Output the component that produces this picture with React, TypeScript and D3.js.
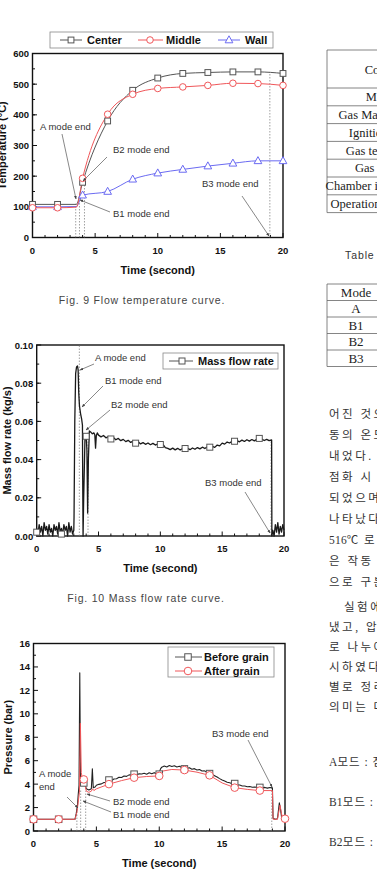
import React from "react";
import * as d3 from "d3";

// ---- Fig. 9: flow temperature (°C) ----
const tempTime = [0, 2, 3.5, 4, 6, 8, 10, 12, 14, 16, 18, 20];
const tempCenter = [108, 108, 108, 180, 380, 480, 520, 535, 538, 540, 540, 535];
const tempMiddle = [97, 97, 99, 193, 402, 467, 486, 491, 496, 503, 502, 496];
const tempWall = [100, 100, 101, 138, 150, 190, 210, 222, 233, 242, 250, 250];
const tempMarkTimes = [0, 2, 4, 6, 8, 10, 12, 14, 16, 18, 20];

// ---- Fig. 10: mass flow rate (kg/s) ----
const flowIdle = [0.004, 0.001, 0.006, 0.002, 0.005, 0.0, 0.007, 0.003, 0.005, 0.001, 0.006, 0.002, 0.004, 0.0, 0.006, 0.003, 0.005, 0.001, 0.007, 0.002, 0.004, 0.001, 0.006, 0.003, 0.005, 0.0, 0.007, 0.002, 0.005, 0.001, 0.003];
const flowStart: [number, number][] = [
  [3.02, 0.01], [3.08, 0.06], [3.15, 0.085], [3.22, 0.0885], [3.3, 0.089], [3.35, 0.087],
  [3.4, 0.075], [3.46, 0.068], [3.55, 0.064], [3.64, 0.061], [3.7, 0.058], [3.72, 0.03],
  [3.75, 0.0], [3.8, 0.02], [3.9, 0.05], [4.0, 0.053], [4.06, 0.045], [4.12, 0.012],
  [4.18, 0.04], [4.26, 0.055], [4.36, 0.0545], [4.5, 0.0535], [4.62, 0.054], [4.7, 0.053],
  [4.76, 0.046], [4.82, 0.0525], [4.9, 0.054]
];
const flowSteady = [0.0528, 0.0519, 0.0526, 0.0514, 0.0521, 0.051, 0.0516, 0.0504, 0.0511, 0.0499, 0.0506, 0.0494, 0.0501, 0.049, 0.0497, 0.0486, 0.0493, 0.0482, 0.0489, 0.048, 0.0487, 0.0478, 0.0485, 0.0476, 0.0483, 0.0475, 0.0481, 0.0463, 0.0459, 0.0452, 0.046, 0.0451, 0.0459, 0.045, 0.0458, 0.0451, 0.0459, 0.0452, 0.0461, 0.0454, 0.0463, 0.0456, 0.0465, 0.0458, 0.0467, 0.046, 0.0469, 0.0464, 0.0476, 0.0472, 0.0486, 0.0481, 0.0492, 0.0487, 0.0496, 0.049, 0.0499, 0.0493, 0.0502, 0.0495, 0.0504, 0.0497, 0.0505, 0.0498, 0.0506, 0.0499, 0.0507, 0.05, 0.0506, 0.0499, 0.0503];
const flowEnd: [number, number][] = [
  [19.02, 0.0], [19.1, 0.003], [19.2, 0.0], [19.3, 0.006], [19.4, 0.002], [19.5, 0.007],
  [19.6, 0.001], [19.7, 0.005], [19.8, 0.002], [19.9, 0.006], [20.0, 0.003]
];
const flowMarks: [number, number][] = [
  [0, 0.002], [2, 0.001], [4, 0.0522], [6, 0.0508], [8, 0.0486], [10, 0.0479],
  [12, 0.0458], [14, 0.0465], [16, 0.0496], [18, 0.0511]
];

// ---- Fig. 11: chamber pressure (bar) ----
const pressBefore: [number, number][] = [
  [0, 1.0], [3.3, 1.0], [3.4, 1.5], [3.5, 2.2], [3.55, 3.0], [3.62, 3.9], [3.68, 13.5],
  [3.74, 4.0], [3.85, 4.1], [4.0, 4.15], [4.1, 4.0], [4.2, 3.6], [4.4, 3.5], [4.6, 3.6],
  [4.68, 5.3], [4.75, 3.7], [4.9, 3.75], [5.0, 3.9], [5.2, 3.98], [5.4, 4.02], [5.6, 4.14],
  [5.8, 4.16], [6.0, 4.34], [6.2, 4.31], [6.4, 4.44], [6.6, 4.46], [6.8, 4.59], [7.0, 4.56],
  [7.2, 4.69], [7.4, 4.66], [7.6, 4.79], [7.8, 4.76], [8.0, 4.89], [8.2, 4.78], [8.4, 4.88],
  [8.6, 4.86], [8.8, 4.92], [9.0, 4.85], [9.2, 4.97], [9.4, 4.88], [9.6, 4.98], [9.8, 4.88],
  [10.0, 4.97], [10.1, 5.3], [10.2, 5.45], [10.4, 5.55], [10.6, 5.47], [10.8, 5.58],
  [11.0, 5.5], [11.2, 5.57], [11.4, 5.46], [11.6, 5.53], [11.8, 5.42], [12.0, 5.47],
  [12.2, 5.36], [12.4, 5.4], [12.6, 5.27], [12.8, 5.32], [13.0, 5.21], [13.2, 5.24],
  [13.4, 5.12], [13.6, 5.13], [13.8, 5.02], [14.0, 4.95], [14.2, 4.84], [14.4, 4.72],
  [14.6, 4.6], [14.8, 4.47], [15.0, 4.35], [15.2, 4.26], [15.4, 4.16], [15.6, 4.12],
  [15.8, 4.04], [16.0, 4.02], [16.2, 3.94], [16.4, 3.92], [16.6, 3.84], [16.8, 3.84],
  [17.0, 3.77], [17.2, 3.8], [17.4, 3.73], [17.6, 3.76], [17.8, 3.7], [18.0, 3.74],
  [18.2, 3.68], [18.4, 3.72], [18.6, 3.66], [18.8, 3.71], [19.0, 3.68], [19.05, 1.1],
  [19.2, 1.0], [19.4, 1.05], [19.55, 2.4], [19.65, 1.8], [19.75, 1.0], [20.0, 1.0]
];
const pressAfter: [number, number][] = [
  [0, 1.0], [3.3, 1.0], [3.45, 1.6], [3.55, 2.4], [3.65, 3.3], [3.73, 9.2], [3.8, 5.0],
  [3.9, 4.3], [4.0, 4.4], [4.2, 3.4], [4.4, 3.3], [4.6, 3.4], [4.7, 3.6], [4.8, 3.45],
  [5.0, 3.6], [6.0, 4.0], [7.0, 4.3], [8.0, 4.55], [9.0, 4.65], [10.0, 4.7], [10.2, 5.1],
  [11.0, 5.25], [12.0, 5.2], [13.0, 5.02], [14.0, 4.75], [15.0, 4.1], [16.0, 3.7],
  [17.0, 3.55], [18.0, 3.45], [19.0, 3.45], [19.05, 1.0], [19.4, 1.0], [19.6, 2.2],
  [19.8, 1.05], [20.0, 1.05]
];
const pressBeforeMarks: [number, number][] = [
  [0, 1.0], [2, 1.0], [4, 4.1], [6, 4.35], [8, 4.85], [10, 4.85], [12, 5.3], [14, 4.9], [16, 4.05], [18, 3.72]
];
const pressAfterMarks: [number, number][] = [
  [0, 1.0], [2, 1.0], [4, 4.4], [6, 4.0], [8, 4.55], [10, 4.7], [12, 5.2], [14, 4.75], [16, 3.7], [18, 3.45], [20, 1.05]
];

const modeEnds = [3.45, 3.75, 4.15, 18.95];

// ---- right-hand column of the page ----
const table1Header = "Contents";
const table1Rows = ["Material", "Gas Mass flow rate", "Ignition energy", "Gas temperature", "Gas pressure", "Chamber initial pressure", "Operation temperature"];
const table2Caption = "Table 2 Operation mode";
const table2Header = "Mode";
const table2Rows = ["A", "B1", "B2", "B3"];
const bodyLines = ["어진 것으", "동의 온도", "내었다. 그", "점화 시 온", "되었으며", "나타났다.", "516℃ 로", "은 작동 시", "으로 구분"];
const bodyLines2 = ["실험에서", "냈고, 압력", "로 나누어", "시하였다.", "별로 정리", "의미는 다"];
const modeLines = ["A모드 : 점", "B1모드 : 초", "B2모드 : 연"];

const SANS = "'Liberation Sans', Arial, sans-serif";
const SERIF = "'Liberation Serif', 'Times New Roman', serif";
const BODY = "'Liberation Serif', 'Noto Sans CJK KR', serif";

type Box = { l: number; r: number; t: number; b: number };

function Axes({ box, x, y, yMajor, yMinor, yFmt, yTitle, yTitleX }: {
  box: Box; x: d3.ScaleLinear<number, number>; y: d3.ScaleLinear<number, number>;
  yMajor: number[]; yMinor: number[]; yFmt: (v: number) => string; yTitle: string; yTitleX: number;
}) {
  const xMajor = [0, 5, 10, 15, 20];
  const xMinor = d3.range(0, 21, 1);
  const midY = (box.t + box.b) / 2;
  return (
    <g>
      <rect x={box.l} y={box.t} width={box.r - box.l} height={box.b - box.t} fill="none" stroke="#111" strokeWidth={1.4} />
      {xMinor.map((v) => (
        <line key={"xm" + v} x1={x(v)} x2={x(v)} y1={box.b} y2={box.b - (v % 5 === 0 ? 4.5 : 2.5)} stroke="#111" strokeWidth={1} />
      ))}
      {yMinor.map((v, i) => (
        <line key={"ym" + i} x1={box.l} x2={box.l + 2.5} y1={y(v)} y2={y(v)} stroke="#111" strokeWidth={1} />
      ))}
      {yMajor.map((v, i) => (
        <g key={"yM" + i}>
          <line x1={box.l} x2={box.l + 4.5} y1={y(v)} y2={y(v)} stroke="#111" strokeWidth={1} />
          <text x={box.l - 3.5} y={y(v) + 3.5} textAnchor="end" fontSize={9.5} fontWeight="bold" fontFamily={SANS} fill="#111">{yFmt(v)}</text>
        </g>
      ))}
      {xMajor.map((v) => (
        <text key={"xl" + v} x={x(v)} y={box.b + 16} textAnchor="middle" fontSize={9.5} fontWeight="bold" fontFamily={SANS} fill="#111">{v}</text>
      ))}
      <text x={(box.l + box.r) / 2} y={box.b + 36} textAnchor="middle" fontSize={11} fontWeight="bold" fontFamily={SANS} fill="#111">Time (second)</text>
      <text transform={`translate(${yTitleX},${midY}) rotate(-90)`} textAnchor="middle" fontSize={11} fontWeight="bold" fontFamily={SANS} fill="#111">{yTitle}</text>
    </g>
  );
}

function Note({ tx, ty, lines, x1, y1, x2, y2 }: { tx: number; ty: number; lines: string[]; x1: number; y1: number; x2: number; y2: number }) {
  return (
    <g>
      {lines.map((s, i) => (
        <text key={i} x={tx} y={ty + i * 12.5} fontSize={9.5} fontFamily={SANS} fill="#333">{s}</text>
      ))}
      <line x1={x1} y1={y1} x2={x2} y2={y2} stroke="#555" strokeWidth={0.7} markerEnd="url(#arrow)" />
    </g>
  );
}

const Square = ({ cx, cy, s, stroke }: { cx: number; cy: number; s: number; stroke: string }) => (
  <rect x={cx - s / 2} y={cy - s / 2} width={s} height={s} fill="white" stroke={stroke} strokeWidth={1} />
);
const Tri = ({ cx, cy, s, stroke }: { cx: number; cy: number; s: number; stroke: string }) => (
  <path d={`M${cx},${cy - s * 0.6} L${cx + s * 0.55},${cy + s * 0.4} L${cx - s * 0.55},${cy + s * 0.4} Z`} fill="white" stroke={stroke} strokeWidth={1} />
);

const GRAY = "#555";
const RED = "#f0575a";
const BLUE = "#6b6bf2";

function LegendText({ x, y, children }: { x: number; y: number; children: string }) {
  return <text x={x} y={y} fontSize={11} fontWeight="bold" fontFamily={SANS} fill="#111">{children}</text>;
}

// Hangul gets wide tracking, Latin/digit runs stay tight
function BodyLine({ x, y, text, spacing }: { x: number; y: number; text: string; spacing: number }) {
  const runs = text.match(/[0-9A-Za-z℃]+|[^0-9A-Za-z℃]+/g) ?? [];
  return (
    <text x={x} y={y} fontSize={11.5} fontFamily={BODY} fill="#333">
      {runs.map((r, i) => (
        <tspan key={i} letterSpacing={/[0-9A-Za-z℃]/.test(r) ? 0.2 : spacing}>{r}</tspan>
      ))}
    </text>
  );
}

function TemperatureChart() {
  const box = { l: 32.5, r: 283, t: 53.5, b: 237.5 };
  const x = d3.scaleLinear().domain([0, 20]).range([box.l, box.r]);
  const y = d3.scaleLinear().domain([0, 600]).range([box.b, box.t]);
  const line = d3.line<number>().x((_, i) => x(tempTime[i])).y((d) => y(d)).curve(d3.curveMonotoneX);
  const marks = (vals: number[]) => tempTime.map((t, i) => ({ t, v: vals[i] })).filter((d) => tempMarkTimes.includes(d.t));
  const guideTops = [110, 112, 190, 540];
  return (
    <g>
      <Axes box={box} x={x} y={y} yMajor={d3.range(0, 601, 100)} yMinor={d3.range(50, 600, 50)} yFmt={(v) => String(v)} yTitle="Temperature (°C)" yTitleX={5.5} />
      {modeEnds.map((m, i) => (
        <line key={i} x1={x(m)} x2={x(m)} y1={y(0)} y2={y(guideTops[i])} stroke="#777" strokeWidth={0.7} strokeDasharray="1.5,1.5" />
      ))}
      <path d={line(tempWall) ?? ""} fill="none" stroke={BLUE} strokeWidth={1} />
      <path d={line(tempCenter) ?? ""} fill="none" stroke={GRAY} strokeWidth={1} />
      <path d={line(tempMiddle) ?? ""} fill="none" stroke={RED} strokeWidth={1} />
      {marks(tempWall).map((d) => <Tri key={d.t} cx={x(d.t)} cy={y(d.v)} s={7} stroke={BLUE} />)}
      {marks(tempCenter).map((d) => <Square key={d.t} cx={x(d.t)} cy={y(d.v)} s={5.8} stroke={GRAY} />)}
      {marks(tempMiddle).map((d) => <circle key={d.t} cx={x(d.t)} cy={y(d.v)} r={3.3} fill="white" stroke={RED} strokeWidth={1} />)}
      <Note tx={40} ty={130} lines={["A mode end"]} x1={62} y1={134} x2={76} y2={199} />
      <Note tx={113} ty={153} lines={["B2 mode end"]} x1={107} y1={157} x2={83} y2={181} />
      <Note tx={113} ty={217} lines={["B1 mode end"]} x1={110} y1={212} x2={80} y2={200} />
      <Note tx={202} ty={187} lines={["B3 mode end"]} x1={242} y1={196} x2={269} y2={236} />
      {/* legend */}
      <rect x={50} y={32} width={223} height={16} fill="white" stroke="#888" strokeWidth={0.8} />
      <line x1={60} x2={82} y1={40} y2={40} stroke={GRAY} strokeWidth={1} />
      <Square cx={71} cy={40} s={5.8} stroke={GRAY} />
      <LegendText x={87} y={44}>Center</LegendText>
      <line x1={138} x2={163} y1={40} y2={40} stroke={RED} strokeWidth={1} />
      <circle cx={150} cy={40} r={3.3} fill="white" stroke={RED} strokeWidth={1} />
      <LegendText x={166} y={44}>Middle</LegendText>
      <line x1={218} x2={240} y1={40} y2={40} stroke={BLUE} strokeWidth={1} />
      <Tri cx={229} cy={40} s={7} stroke={BLUE} />
      <LegendText x={245} y={44}>Wall</LegendText>
    </g>
  );
}

function FlowChart() {
  const box = { l: 36.7, r: 284, t: 345, b: 536 };
  const x = d3.scaleLinear().domain([0, 20]).range([box.l, box.r]);
  const y = d3.scaleLinear().domain([0, 0.1]).range([box.b, box.t]);
  const pts: [number, number][] = [
    ...flowIdle.map((v, i) => [i * 0.1, v] as [number, number]),
    ...flowStart,
    ...flowSteady.map((v, i) => [5 + i * 0.2, v] as [number, number]),
    ...flowEnd,
  ];
  const line = d3.line<[number, number]>().x((d) => x(d[0])).y((d) => y(d[1]));
  const guideTops = [0.1, 0.0, 0.055, 0.05];
  return (
    <g>
      <Axes box={box} x={x} y={y} yMajor={d3.range(0, 0.101, 0.02)} yMinor={d3.range(0.01, 0.1, 0.01)} yFmt={d3.format(".2f")} yTitle="Mass flow rate (kg/s)" yTitleX={11} />
      {modeEnds.map((m, i) => guideTops[i] > 0 && (
        <line key={i} x1={x(m)} x2={x(m)} y1={y(0)} y2={y(guideTops[i])} stroke="#777" strokeWidth={0.7} strokeDasharray="1.5,1.5" />
      ))}
      <path d={line(pts) ?? ""} fill="none" stroke="#1a1a1a" strokeWidth={1.3} strokeLinejoin="round" />
      {flowMarks.map((d) => <Square key={d[0]} cx={x(d[0])} cy={y(d[1])} s={6} stroke={GRAY} />)}
      <Note tx={95} ty={361} lines={["A mode end"]} x1={94} y1={364} x2={80} y2={370} />
      <Note tx={105} ty={384} lines={["B1 mode end"]} x1={103} y1={386} x2={82} y2={407} />
      <Note tx={111} ty={408} lines={["B2 mode end"]} x1={110} y1={410} x2={86} y2={430} />
      <Note tx={205} ty={486} lines={["B3 mode end"]} x1={245} y1={492} x2={270} y2={533} />
      <rect x={163} y={353} width={115} height={16} fill="white" stroke="#888" strokeWidth={0.8} />
      <line x1={169} x2={193} y1={361} y2={361} stroke={GRAY} strokeWidth={1} />
      <Square cx={182} cy={361} s={6} stroke={GRAY} />
      <LegendText x={198} y={365}>Mass flow rate</LegendText>
    </g>
  );
}

function PressureChart() {
  const box = { l: 33.5, r: 285, t: 643.5, b: 831 };
  const x = d3.scaleLinear().domain([0, 20]).range([box.l, box.r]);
  const y = d3.scaleLinear().domain([0, 16]).range([box.b, box.t]);
  const line = d3.line<[number, number]>().x((d) => x(d[0])).y((d) => y(d[1]));
  const guideTops = [2.0, 3.6, 3.4, 3.7];
  return (
    <g>
      <Axes box={box} x={x} y={y} yMajor={d3.range(0, 17, 2)} yMinor={d3.range(1, 16, 2)} yFmt={(v) => String(v)} yTitle="Pressure (bar)" yTitleX={12} />
      {modeEnds.map((m, i) => (
        <line key={i} x1={x(m)} x2={x(m)} y1={y(0)} y2={y(guideTops[i])} stroke="#777" strokeWidth={0.7} strokeDasharray="1.5,1.5" />
      ))}
      <path d={line(pressBefore) ?? ""} fill="none" stroke="#222" strokeWidth={1.1} strokeLinejoin="round" />
      <path d={line(pressAfter) ?? ""} fill="none" stroke={RED} strokeWidth={1} strokeLinejoin="round" />
      {pressBeforeMarks.map((d) => <Square key={d[0]} cx={x(d[0])} cy={y(d[1])} s={6.5} stroke={GRAY} />)}
      {pressAfterMarks.map((d) => <circle key={d[0]} cx={x(d[0])} cy={y(d[1])} r={3.8} fill="white" stroke={RED} strokeWidth={1} />)}
      <Note tx={39} ty={777} lines={["A mode", "  end"]} x1={67} y1={797} x2={78} y2={808} />
      <Note tx={113} ty={805} lines={["B2 mode end"]} x1={110} y1={801} x2={87} y2={794} />
      <Note tx={113} ty={818} lines={["B1 mode end"]} x1={111} y1={812} x2={83} y2={801} />
      <Note tx={212} ty={737} lines={["B3 mode end"]} x1={248} y1={740} x2={272} y2={787} />
      <rect x={168} y={647} width={106} height={30} fill="white" stroke="#888" strokeWidth={0.8} />
      <line x1={175} x2={202} y1={657} y2={657} stroke={GRAY} strokeWidth={1} />
      <Square cx={188} cy={657} s={6.5} stroke={GRAY} />
      <LegendText x={204} y={661}>Before grain</LegendText>
      <line x1={175} x2={202} y1={671} y2={671} stroke={RED} strokeWidth={1} />
      <circle cx={188} cy={671} r={3.8} fill="white" stroke={RED} strokeWidth={1} />
      <LegendText x={204} y={675}>After grain</LegendText>
    </g>
  );
}

function SideColumn() {
  const left = 327;
  const t1Top = 50, t1Head = 88, rowH = 17.8;
  const t2Top = 284, rowH2 = 16.5;
  const tStroke = "#666";
  const t1Bottom = t1Head + rowH * table1Rows.length;
  return (
    <g>
      {/* Table 1 */}
      <line x1={left} x2={left} y1={t1Top} y2={t1Bottom} stroke={tStroke} strokeWidth={0.8} />
      {[t1Top, ...table1Rows.map((_, i) => t1Head + rowH * i), t1Bottom].map((yy, i) => (
        <line key={i} x1={left} x2={400} y1={yy} y2={yy} stroke={tStroke} strokeWidth={0.8} />
      ))}
      <text x={387} y={(t1Top + t1Head) / 2 + 4.5} textAnchor="middle" fontSize={12.5} fontFamily={SERIF} fill="#222">{table1Header}</text>
      {table1Rows.map((s, i) => (
        <text key={s} x={387} y={t1Head + rowH * i + rowH / 2 + 4.3} textAnchor="middle" fontSize={12.5} fontFamily={SERIF} fill="#222">{s}</text>
      ))}
      <text x={345} y={259} fontSize={10.5} letterSpacing={0.9} fontFamily={SANS} fill="#333">{table2Caption}</text>
      {/* Table 2 */}
      <line x1={left} x2={left} y1={t2Top} y2={t2Top + rowH2 * (table2Rows.length + 1)} stroke={tStroke} strokeWidth={0.8} />
      {d3.range(table2Rows.length + 2).map((i) => (
        <line key={i} x1={left} x2={400} y1={t2Top + rowH2 * i} y2={t2Top + rowH2 * i} stroke={tStroke} strokeWidth={0.8} />
      ))}
      <text x={356} y={t2Top + rowH2 / 2 + 4.5} textAnchor="middle" fontSize={13} fontFamily={SERIF} fill="#222">{table2Header}</text>
      {table2Rows.map((s, i) => (
        <text key={s} x={356} y={t2Top + rowH2 * (i + 1) + rowH2 / 2 + 4.5} textAnchor="middle" fontSize={13} fontFamily={SERIF} fill="#222">{s}</text>
      ))}
      {/* body text */}
      {bodyLines.map((s, i) => (
        <BodyLine key={s} x={329} y={418 + i * 21} text={s} spacing={2.5} />
      ))}
      {bodyLines2.map((s, i) => (
        <BodyLine key={s} x={i === 0 ? 344 : 329} y={611 + i * 20} text={s} spacing={2.5} />
      ))}
      {modeLines.map((s, i) => (
        <BodyLine key={s} x={329} y={766 + i * 40} text={s} spacing={1} />
      ))}
    </g>
  );
}

export default function App() {
  return (
    <svg width={377} height={885} style={{ position: "absolute", left: 0, top: 0, background: "white" }}>
      <defs>
        <marker id="arrow" viewBox="0 0 10 10" refX={9} refY={5} markerWidth={5} markerHeight={5} orient="auto">
          <path d="M0,1 L10,5 L0,9 Z" fill="#444" />
        </marker>
      </defs>
      <rect width={377} height={885} fill="white" />
      <TemperatureChart />
      <text x={142} y={304} textAnchor="middle" fontSize={10.5} letterSpacing={0.8} fontFamily={SANS} fill="#444">Fig. 9 Flow temperature curve.</text>
      <FlowChart />
      <text x={146} y={602} textAnchor="middle" fontSize={10.5} letterSpacing={0.8} fontFamily={SANS} fill="#444">Fig. 10 Mass flow rate curve.</text>
      <PressureChart />
      <SideColumn />
    </svg>
  );
}
